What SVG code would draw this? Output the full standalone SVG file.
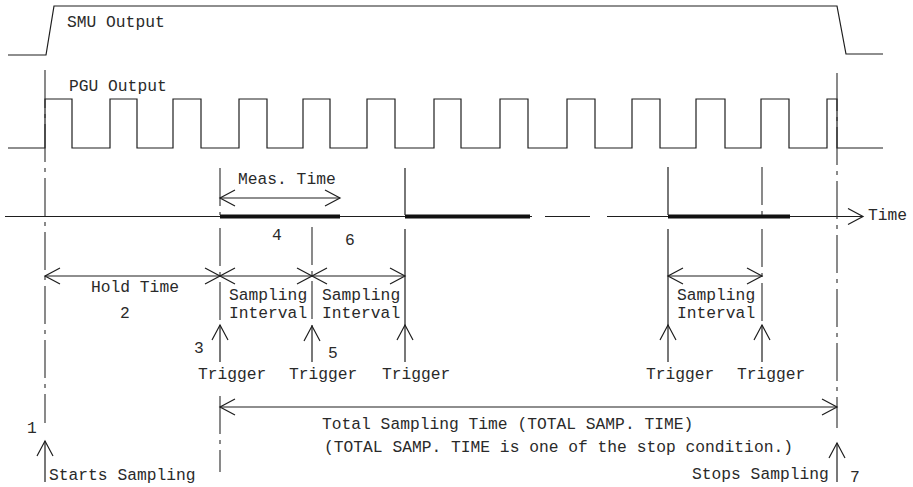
<svg xmlns="http://www.w3.org/2000/svg" width="913" height="487" viewBox="0 0 913 487">
<defs>
<style>
.ln{fill:none;stroke:#1e1e1e;stroke-width:1.2}
.dsh{fill:none;stroke:#2a2a2a;stroke-width:1.1;stroke-dasharray:38 6 4 6}
.thick{fill:none;stroke:#111;stroke-width:4}
.t{font-family:"Liberation Mono","Courier New",monospace;font-size:16.3px;fill:#2a2a2a}
</style>
<marker id="oa" viewBox="-16 -9 18 18" markerWidth="18" markerHeight="18" refX="0" refY="0" markerUnits="userSpaceOnUse" orient="auto-start-reverse">
<path d="M-15,-8 L0,0 L-15,8" fill="none" stroke="#1e1e1e" stroke-width="1.2"/>
</marker>
</defs>
<rect width="913" height="487" fill="#fff"/>

<g id="smu-output">
<path class="ln" d="M8,55 L46,55 L54,6 L837,6 L846,54 L883,54"/>
<text class="t" x="67" y="27">SMU Output</text>
</g>

<g id="pgu-output">
<path class="ln" d="M8,148 L45,148 L45,99 L72,99 L72,148 L110,148 L110,99 L137,99 L137,148 L173,148 L173,99 L201,99 L201,148 L239,148 L239,99 L267,99 L267,148 L303,148 L303,99 L330,99 L330,148 L367,148 L367,99 L395,99 L395,148 L434,148 L434,99 L461,99 L461,148 L500,148 L500,99 L528,99 L528,148 L567,148 L567,99 L595,99 L595,148 L632,148 L632,99 L660,99 L660,148 L696,148 L696,99 L725,99 L725,148 L761,148 L761,99 L789,99 L789,148 L827,148 L827,99 L837,99 L837,148 L883,148"/>
<text class="t" x="69" y="91">PGU Output</text>
</g>

<g id="time-axis">
<path class="ln" d="M5,216.5 L532,216.5 M545,216.5 L590,216.5"/>
<path class="ln" d="M607,216.5 L863,216.5" marker-end="url(#oa)"/>
<path class="thick" d="M220,216.5 L340,216.5 M405,216.5 L530,216.5 M668,216.5 L790,216.5"/>
<text class="t" x="868" y="220">Time</text>
</g>

<g id="guides">
<path class="dsh" d="M45,70 L45,423"/>
<path class="dsh" d="M220,168 L220,215 M220,228 L220,326 M220,396 L220,472"/>
<path class="dsh" d="M312,227 L312,326"/>
<path class="ln" d="M405,168 L405,215 M405,229 L405,326"/>
<path class="ln" d="M668,167 L668,215 M668,229 L668,326"/>
<path class="dsh" d="M762,167 L762,215 M762,229 L762,326"/>
<path class="dsh" d="M837,73 L837,428"/>
</g>

<g id="meas-time">
<text class="t" x="238" y="184">Meas. Time</text>
<text class="t" x="272" y="240">4</text>
<text class="t" x="345" y="245">6</text>
</g>

<g id="hold-time">
<text class="t" x="91" y="292">Hold Time</text>
<text class="t" x="120" y="318">2</text>
</g>

<g id="sampling-interval-1">
<text class="t" x="229" y="300">Sampling</text>
<text class="t" x="229" y="318">Interval</text>
</g>
<g id="sampling-interval-2">
<text class="t" x="322" y="300">Sampling</text>
<text class="t" x="322" y="318">Interval</text>
</g>
<g id="sampling-interval-3">
<text class="t" x="677" y="300">Sampling</text>
<text class="t" x="677" y="318">Interval</text>
</g>

<g id="triggers">
<text class="t" x="194" y="353">3</text>
<text class="t" x="328" y="358">5</text>
<text class="t" x="198" y="379">Trigger</text>
<text class="t" x="289" y="379">Trigger</text>
<text class="t" x="382" y="379">Trigger</text>
<text class="t" x="646" y="379">Trigger</text>
<text class="t" x="737" y="379">Trigger</text>
</g>

<g id="total-sampling">
<text class="t" x="322" y="429">Total Sampling Time (TOTAL SAMP. TIME)</text>
<text class="t" x="324" y="452">(TOTAL SAMP. TIME is one of the stop condition.)</text>
</g>

<g id="start-stop">
<text class="t" x="27" y="433">1</text>
<text class="t" x="49" y="480">Starts Sampling</text>
<text class="t" x="692" y="479">Stops Sampling</text>
<text class="t" x="850" y="482">7</text>
</g>

<g id="connectors">
<path class="ln" d="M220,198 L340,198" marker-start="url(#oa)" marker-end="url(#oa)"/>
<path class="ln" d="M45,276 L220,276" marker-start="url(#oa)" marker-end="url(#oa)"/>
<path class="ln" d="M220,276 L312,276" marker-start="url(#oa)" marker-end="url(#oa)"/>
<path class="ln" d="M312,276 L405,276" marker-start="url(#oa)" marker-end="url(#oa)"/>
<path class="ln" d="M668,276 L762,276" marker-start="url(#oa)" marker-end="url(#oa)"/>
<path class="ln" d="M220,407 L837,407" marker-start="url(#oa)" marker-end="url(#oa)"/>
<path class="ln" d="M220,362 L220,325" marker-end="url(#oa)"/>
<path class="ln" d="M312,362 L312,326" marker-end="url(#oa)"/>
<path class="ln" d="M405,362 L405,325" marker-end="url(#oa)"/>
<path class="ln" d="M668,362 L668,325" marker-end="url(#oa)"/>
<path class="ln" d="M762,362 L762,325" marker-end="url(#oa)"/>
<path class="ln" d="M45,482 L45,441" marker-end="url(#oa)"/>
<path class="ln" d="M837,482 L837,443" marker-end="url(#oa)"/>
</g>
</svg>
